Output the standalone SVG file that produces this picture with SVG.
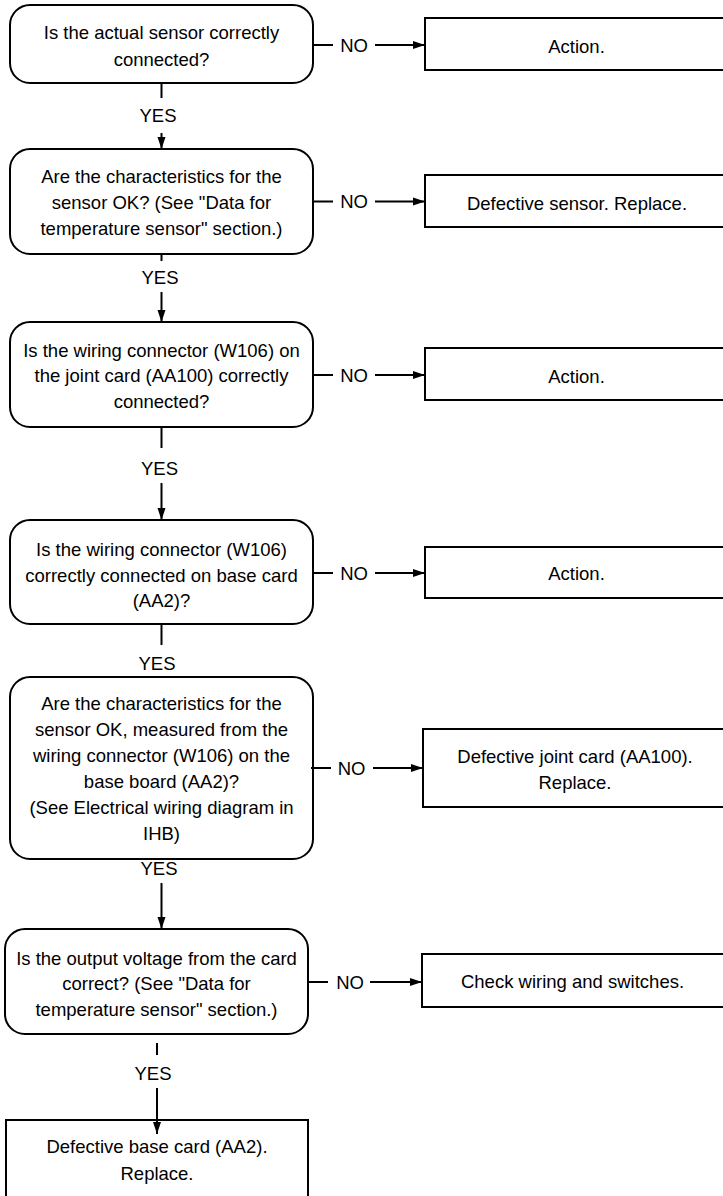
<svg xmlns="http://www.w3.org/2000/svg" width="723" height="1196" viewBox="0 0 723 1196">
  <style>
    .dec { fill: #fff; stroke: #000; stroke-width: 2; }
    .act { fill: #fff; stroke: #000; stroke-width: 2; }
    .t { font-family: "Liberation Sans", Arial, sans-serif; font-size: 18.5px; fill: #000; text-anchor: middle; }
    .ln { stroke: #000; stroke-width: 2; fill: none; }
    .arr { stroke: #000; stroke-width: 2; fill: none; marker-end: url(#head); }
  </style>
  <defs>
    <marker id="head" markerUnits="userSpaceOnUse" markerWidth="12" markerHeight="10" refX="12" refY="5" orient="auto">
      <path d="M0,1 L12,5 L0,9 z" fill="#000"/>
    </marker>
  </defs>
  <rect width="723" height="1196" fill="#fff"/>

  <!-- decision nodes -->
  <g id="q1">
    <rect class="dec" x="10" y="5" width="303" height="78" rx="20"/>
    <text class="t" x="161.5" y="39">Is the actual sensor correctly</text>
    <text class="t" x="161.5" y="65.5">connected?</text>
  </g>
  <g id="q2">
    <rect class="dec" x="10" y="149" width="303" height="105" rx="20"/>
    <text class="t" x="161.5" y="183">Are the characteristics for the</text>
    <text class="t" x="161.5" y="209">sensor OK? (See "Data for</text>
    <text class="t" x="161.5" y="235">temperature sensor" section.)</text>
  </g>
  <g id="q3">
    <rect class="dec" x="10" y="322" width="303" height="105" rx="20"/>
    <text class="t" x="161.5" y="356.5">Is the wiring connector (W106) on</text>
    <text class="t" x="161.5" y="382">the joint card (AA100) correctly</text>
    <text class="t" x="161.5" y="408">connected?</text>
  </g>
  <g id="q4">
    <rect class="dec" x="10" y="520" width="303" height="104" rx="20"/>
    <text class="t" x="161.5" y="556">Is the wiring connector (W106)</text>
    <text class="t" x="161.5" y="581.5">correctly connected on base card</text>
    <text class="t" x="161.5" y="607">(AA2)?</text>
  </g>
  <g id="q5">
    <rect class="dec" x="10" y="677" width="303" height="182" rx="20"/>
    <text class="t" x="161.5" y="710">Are the characteristics for the</text>
    <text class="t" x="161.5" y="736">sensor OK, measured from the</text>
    <text class="t" x="161.5" y="762">wiring connector (W106) on the</text>
    <text class="t" x="161.5" y="788">base board (AA2)?</text>
    <text class="t" x="161.5" y="814">(See Electrical wiring diagram in</text>
    <text class="t" x="161.5" y="840">IHB)</text>
  </g>
  <g id="q6">
    <rect class="dec" x="5" y="929" width="303" height="105" rx="20"/>
    <text class="t" x="156.5" y="965">Is the output voltage from the card</text>
    <text class="t" x="156.5" y="990">correct? (See "Data for</text>
    <text class="t" x="156.5" y="1016">temperature sensor" section.)</text>
  </g>

  <!-- action nodes -->
  <g id="a1">
    <rect class="act" x="425" y="18" width="304" height="52"/>
    <text class="t" x="576.5" y="53">Action.</text>
  </g>
  <g id="a2">
    <rect class="act" x="425" y="175" width="304" height="52"/>
    <text class="t" x="577" y="210">Defective sensor. Replace.</text>
  </g>
  <g id="a3">
    <rect class="act" x="425" y="348" width="304" height="52"/>
    <text class="t" x="576.5" y="383">Action.</text>
  </g>
  <g id="a4">
    <rect class="act" x="425" y="547" width="304" height="51"/>
    <text class="t" x="576.5" y="580">Action.</text>
  </g>
  <g id="a5">
    <rect class="act" x="423" y="729" width="304" height="78"/>
    <text class="t" x="575" y="763">Defective joint card (AA100).</text>
    <text class="t" x="575" y="789">Replace.</text>
  </g>
  <g id="a6">
    <rect class="act" x="422" y="954" width="303" height="53"/>
    <text class="t" x="572.5" y="988">Check wiring and switches.</text>
  </g>
  <g id="a7">
    <rect class="act" x="6" y="1120" width="302" height="90"/>
    <text class="t" x="157" y="1153">Defective base card (AA2).</text>
    <text class="t" x="157" y="1180">Replace.</text>
  </g>

  <!-- connectors, drawn last so arrow tips stay visible over the boxes -->
  <g id="connectors">
    <!-- YES branches -->
    <line class="ln" x1="161.5" y1="83" x2="161.5" y2="98"/>
    <text class="t" x="158" y="122">YES</text>
    <line class="arr" x1="161.5" y1="133" x2="161.5" y2="149"/>

    <line class="ln" x1="161.5" y1="254" x2="161.5" y2="261"/>
    <text class="t" x="160" y="284">YES</text>
    <line class="arr" x1="161.5" y1="292" x2="161.5" y2="322"/>

    <line class="ln" x1="161.5" y1="427" x2="161.5" y2="448"/>
    <text class="t" x="159.5" y="475">YES</text>
    <line class="arr" x1="161.5" y1="483" x2="161.5" y2="520"/>

    <line class="ln" x1="161.5" y1="624" x2="161.5" y2="645"/>
    <text class="t" x="157" y="670">YES</text>

    <text class="t" x="159" y="875">YES</text>
    <line class="arr" x1="161.5" y1="883" x2="161.5" y2="929"/>

    <line class="ln" x1="157" y1="1043" x2="157" y2="1055"/>
    <text class="t" x="153" y="1080">YES</text>
    <line class="arr" x1="157" y1="1088" x2="157" y2="1134"/>

    <!-- NO branches -->
    <line class="ln" x1="313" y1="45" x2="333" y2="45"/>
    <text class="t" x="354" y="51.5">NO</text>
    <line class="arr" x1="375" y1="45" x2="425" y2="45"/>

    <line class="ln" x1="313" y1="201.5" x2="333" y2="201.5"/>
    <text class="t" x="354" y="208">NO</text>
    <line class="arr" x1="375" y1="201.5" x2="425" y2="201.5"/>

    <line class="ln" x1="313" y1="375" x2="333" y2="375"/>
    <text class="t" x="354" y="381.5">NO</text>
    <line class="arr" x1="375" y1="375" x2="425" y2="375"/>

    <line class="ln" x1="313" y1="573" x2="333" y2="573"/>
    <text class="t" x="354" y="579.5">NO</text>
    <line class="arr" x1="375" y1="573" x2="425" y2="573"/>

    <line class="ln" x1="311" y1="768" x2="331" y2="768"/>
    <text class="t" x="351.5" y="774.5">NO</text>
    <line class="arr" x1="373" y1="768" x2="423" y2="768"/>

    <line class="ln" x1="308" y1="982" x2="328" y2="982"/>
    <text class="t" x="350" y="988.5">NO</text>
    <line class="arr" x1="370" y1="982" x2="422" y2="982"/>
  </g>
</svg>
